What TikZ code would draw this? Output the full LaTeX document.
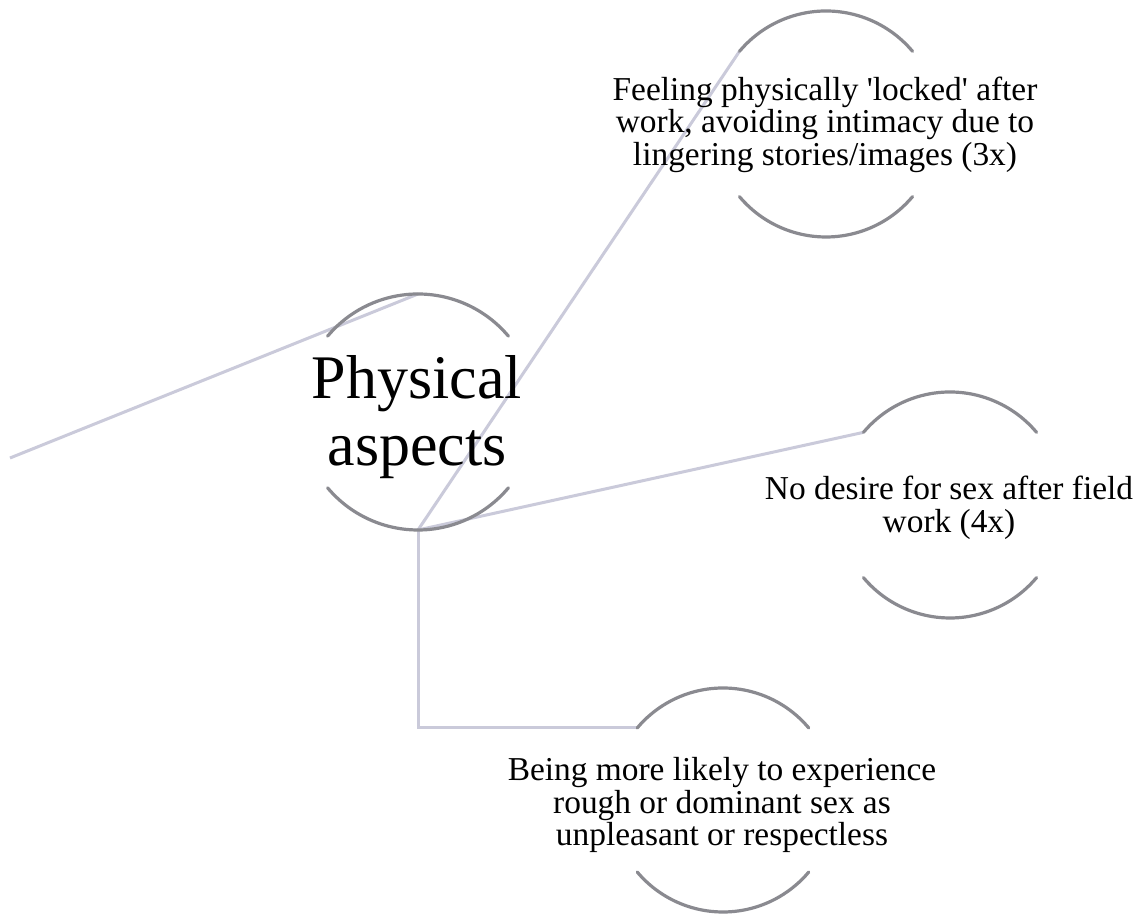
\documentclass[tikz,border=0pt]{standalone}
\usepackage{fontspec}
\setmainfont{Liberation Serif}
\definecolor{rimgray}{RGB}{138,138,144}
\definecolor{linkgray}{RGB}{202,202,218}
\tikzset{
  hub/.style={circle,draw=none,inner sep=0pt,outer sep=0pt,minimum size=#1},
  rim/.style={draw=rimgray,line width=3.2pt,line cap=round},
  link/.style={draw=linkgray,line width=3pt},
  bigtext/.style={align=center,inner sep=0pt,font=\fontsize{62}{67}\selectfont},
  smalltext/.style={align=center,inner sep=0pt,font=\fontsize{33.4}{32.5}\selectfont},
}
\newcommand{\rims}[2]{%
  \draw[rim] (#1.40) arc[start angle=40,end angle=140,radius=#2];
  \draw[rim] (#1.220) arc[start angle=220,end angle=320,radius=#2];
}
\begin{document}
\begin{tikzpicture}[x=1pt,y=1pt]
  \useasboundingbox[fill=white] (0,0) rectangle (1141,917);

  % circular topic holders
  \node[hub=236pt] (C) at (418,505) {};
  \node[hub=226pt] (T) at (826,793) {};
  \node[hub=226pt] (M) at (950,412) {};
  \node[hub=224pt] (B) at (723,117) {};
  \coordinate (src) at (10,459);

  % connectors
  \draw[link] (src) -- (C.north);
  \draw[link] (C.south) -- (T.140);
  \draw[link] (C.south) -- (M.140);
  \draw[link] (C.south) |- (B.140);

  % open rims
  \rims{C}{118pt}
  \rims{T}{113pt}
  \rims{M}{113pt}
  \rims{B}{112pt}

  % labels
  \node[bigtext] (Ct) at (417,500) {Physical\\aspects};
  \node[smalltext] (Tt) at (825,792.5) {Feeling physically \textquotesingle locked\textquotesingle{} after\\work, avoiding intimacy due to\\lingering stories/images (3x)};
  \node[smalltext] (Mt) at (949,409) {No desire for sex after field\\work (4x)};
  \node[smalltext] (Bt) at (722,112) {Being more likely to experience\\rough or dominant sex as\\unpleasant or respectless};
\end{tikzpicture}
\end{document}
